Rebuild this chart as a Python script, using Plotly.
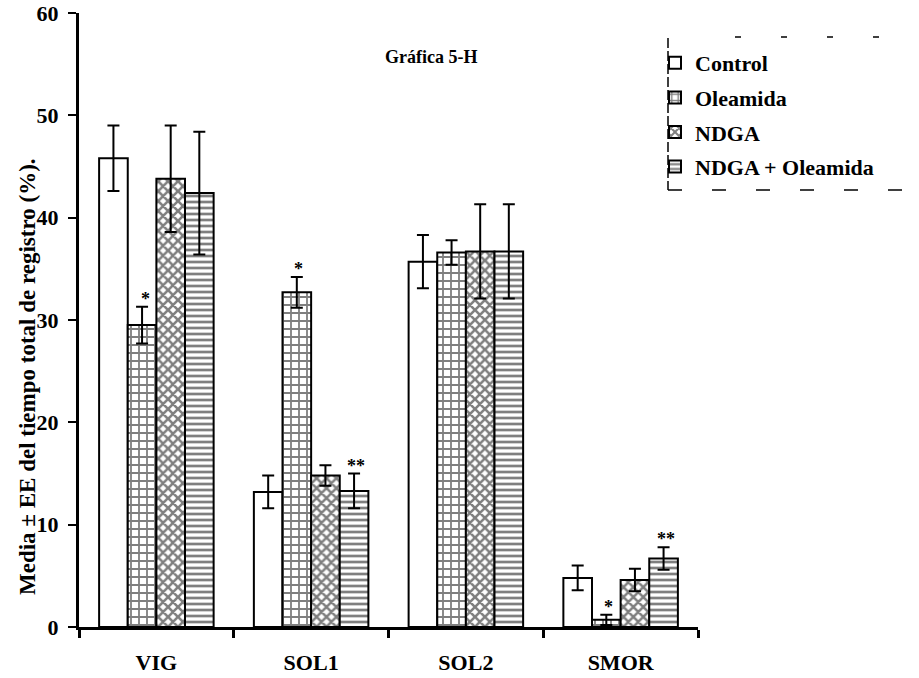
import plotly.graph_objects as go

# Sleep stages on the x axis
categories = ["VIG", "SOL1", "SOL2", "SMOR"]

# Mean percentage of total recording time per treatment
control = [45.8, 13.2, 35.7, 4.8]
oleamida = [29.5, 32.7, 36.6, 0.7]
ndga = [43.8, 14.8, 36.7, 4.6]
ndga_oleamida = [42.4, 13.3, 36.7, 6.7]

# Standard error per treatment
control_se = [3.2, 1.6, 2.6, 1.2]
oleamida_se = [1.8, 1.5, 1.2, 0.5]
ndga_se = [5.2, 1.0, 4.6, 1.1]
ndga_oleamida_se = [6.0, 1.7, 4.6, 1.1]

series_names = ["Control", "Oleamida", "NDGA", "NDGA + Oleamida"]
series_values = [control, oleamida, ndga, ndga_oleamida]
series_errors = [control_se, oleamida_se, ndga_se, ndga_oleamida_se]
# fill pattern: (shape, size, solidity)
series_patterns = [("", 7, 0.3), ("+", 8, 0.4), ("x", 7, 0.6), ("-", 6, 0.45)]

# Significance marks: (series index, category index, label)
significance = [
    (1, 0, "*"),
    (1, 1, "*"),
    (3, 1, "**"),
    (1, 3, "*"),
    (3, 3, "**"),
]

FONT = "Liberation Serif, Times New Roman, serif"

# Plot-area geometry in pixels
W, H = 919, 678
L, R, T, B = 79, 221, 13, 51
PW, PH = W - L - R, H - T - B


def px_x(p):
    return (p - L) / PW


def px_y(p):
    return (H - B - p) / PH


BARGAP = 0.26
fig = go.Figure()
for i, (name, vals, errs, (shape, size, solid)) in enumerate(
        zip(series_names, series_values, series_errors, series_patterns)):
    fig.add_trace(go.Bar(
        name=name,
        x=categories,
        y=vals,
        legendgroup=name,
        marker=dict(
            color="white",
            line=dict(color="black", width=2),
            pattern=dict(shape=shape, fgcolor="black", bgcolor="white",
                         size=size, solidity=solid, fillmode="overlay"),
        ),
        error_y=dict(type="data", array=errs, visible=True,
                     color="black", thickness=2, width=6),
    ))

# Asterisks above the error bars, placed from the bar values
n_series = len(series_names)
bar_w = (1 - BARGAP) / n_series
for s, c, label in significance:
    top = series_values[s][c] + series_errors[s][c]
    xpos = c - (1 - BARGAP) / 2 + bar_w * (s + 0.5)
    fig.add_annotation(
        x=xpos, y=top, xref="x", yref="y", text=label, showarrow=False,
        yanchor="bottom", yshift=-4, xshift=3 if s == 1 and c == 0 else 2,
        font=dict(family=FONT, size=18, color="black", weight="bold"),
    )

# Title
fig.add_annotation(
    x=px_x(431), y=px_y(45), xref="paper", yref="paper",
    text="Gráfica 5-H", showarrow=False,
    font=dict(family=FONT, size=18, color="black", weight="bold"),
)

# Y axis title
fig.add_annotation(
    x=px_x(27), y=px_y(377), xref="paper", yref="paper",
    xanchor="center", yanchor="middle",
    text="Media ± EE del tiempo total de registro (%).", showarrow=False,
    textangle=-90,
    font=dict(family=FONT, size=23, color="black", weight="bold"),
)

# Dashed frame around the legend
frame = dict(color="black", width=1.5)
fig.add_shape(type="line", xref="paper", yref="paper",
              x0=px_x(668), x1=px_x(668), y0=px_y(38), y1=px_y(190),
              line=dict(**frame, dash="10px,3px"))
fig.add_shape(type="line", xref="paper", yref="paper",
              x0=px_x(668), x1=px_x(917), y0=px_y(190), y1=px_y(190),
              line=dict(**frame, dash="14px,30px"))
fig.add_shape(type="line", xref="paper", yref="paper",
              x0=px_x(735), x1=px_x(917), y0=px_y(37), y1=px_y(37),
              line=dict(**frame, dash="6px,40px"))

fig.update_layout(
    width=W, height=H,
    margin=dict(l=L, r=R, t=T, b=B, autoexpand=False),
    paper_bgcolor="white", plot_bgcolor="white",
    barmode="group", bargap=BARGAP, bargroupgap=0,
    font=dict(family=FONT, color="black", weight="bold"),
    showlegend=True,
    legend=dict(
        x=px_x(655), y=px_y(42), xanchor="left", yanchor="top",
        xref="paper", yref="paper",
        font=dict(family=FONT, size=22, color="black", weight="bold"),
        traceorder="grouped", tracegroupgap=3,
        bgcolor="rgba(0,0,0,0)", borderwidth=0,
    ),
)

fig.update_xaxes(
    type="category", range=[-0.5, 3.5],
    showline=True, linecolor="black", linewidth=3,
    ticks="outside", tickson="boundaries", ticklen=8, tickwidth=3,
    tickcolor="black", showgrid=False, zeroline=False,
    tickfont=dict(family=FONT, size=22, color="black", weight="bold"),
    ticklabelstandoff=14,
)
fig.update_yaxes(
    range=[0, 60], tickvals=[0, 10, 20, 30, 40, 50, 60],
    showline=True, linecolor="black", linewidth=3,
    ticks="outside", ticklen=8, tickwidth=2, tickcolor="black",
    showgrid=False, zeroline=False, ticklabelstandoff=5,
    tickfont=dict(family=FONT, size=22, color="black", weight="bold"),
)

fig.write_html("out.html")
